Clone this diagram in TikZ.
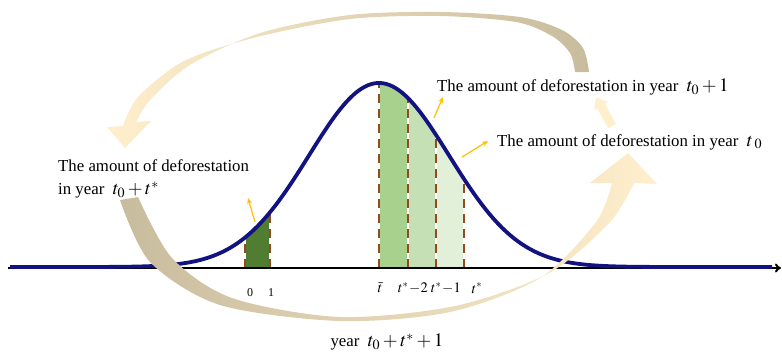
\documentclass[tikz,border=0pt]{standalone}
\usepackage{mathptmx}
\usepackage{fontspec}
\setmainfont{Liberation Serif}
\usetikzlibrary{arrows.meta}
\definecolor{navyc}{RGB}{18,18,128}
\definecolor{brownd}{RGB}{146,74,30}
\definecolor{gdark}{RGB}{80,125,50}
\definecolor{gone}{RGB}{169,209,142}
\definecolor{gtwo}{RGB}{197,224,180}
\definecolor{gthree}{RGB}{226,240,217}
\definecolor{goldc}{RGB}{255,192,0}
\definecolor{tanc}{RGB}{200,188,158}
\definecolor{creamc}{RGB}{255,239,204}
\definecolor{palec}{RGB}{243,236,220}
\begin{document}
\begin{tikzpicture}[x=1pt,y=-1pt,
  declare function={gauss(\t)=267-184*exp(-0.5*((\t-379)/70)^2);},
  curvec/.style={draw=navyc,line width=3.8pt},
  bardash/.style={draw=brownd,line width=2.9pt,dash pattern=on 9pt off 6pt},
  barwhite/.style={draw=white,line width=2.9pt},
  callout/.style={draw=goldc,line width=1.2pt,-{Stealth[length=6pt,width=5pt]}},
  lbl/.style={font=\fontsize{16.8}{19}\selectfont,inner sep=0pt,anchor=west},
  axlbl/.style={font=\fontsize{14.5}{16}\selectfont,inner sep=0pt},
  numlbl/.style={font=\fontsize{12}{14}\selectfont,inner sep=0pt}]
\useasboundingbox (0,0) rectangle (782,354);

% bars
\fill[gdark] (245,268) -- plot[domain=245:270,samples=20] (\x,{gauss(\x)}) -- (270,268) -- cycle;
\fill[gone] (379,268) -- plot[domain=379:408,samples=20] (\x,{gauss(\x)}) -- (408,268) -- cycle;
\fill[gtwo] (408,268) -- plot[domain=408:436,samples=20] (\x,{gauss(\x)}) -- (436,268) -- cycle;
\fill[gthree] (436,268) -- plot[domain=436:464,samples=20] (\x,{gauss(\x)}) -- (464,268) -- cycle;

% dashed separators
\foreach \xx in {245,270,379,408,436,464}{
  \draw[barwhite] (\xx,268) -- (\xx,{gauss(\xx)});
  \draw[bardash] (\xx,268) -- (\xx,{gauss(\xx)});
}

% axis and curve
\draw[line width=2pt,-{To[length=6pt,width=9pt]}] (8,268) -- (781,268);
\draw[curvec] plot[domain=10:772,samples=250] (\x,{gauss(\x)});

% callout arrows
\draw[callout] (255,222) -- (248,198);
\draw[callout] (434,118) -- (443,97);
\draw[callout] (462,157) -- (488,141);

% upper big arrow
\shade[left color=creamc,right color=tanc]
  plot[smooth] coordinates {(589,72) (583,48) (562,30) (520,17) (440,12) (350,15) (260,33) (190,65) (150,100) (136,122)}
  -- (151,121) -- (125,148) -- (107,127) --
  plot[smooth] coordinates {(123,126) (138,97) (184,61) (257,37) (350,19) (440,16) (516,22) (552,36) (570,53) (575,72)}
  -- cycle;

% lower big arrow
\shade[left color=tanc,middle color=palec,right color=creamc]
  plot[smooth] coordinates {(120,200) (150,262) (220,305) (340,321) (450,312) (540,278) (596,222) (612,183)}
  -- (590,183) -- (628,153) -- (657,184) --
  plot[smooth] coordinates {(634,183) (610,222) (549,273) (455,306) (340,317) (232,298) (172,258) (138,197)}
  -- cycle;

% small cream arrow piece
\fill[creamc] (608.1,128.3) -- (615.9,123.8) -- (604.9,103.8) -- (607.9,102) -- (596,97.3) -- (594.1,110) -- (597.1,108.3) -- cycle;

% texts
\node[lbl] (t1) at (58,166) {The amount of deforestation};
\node[lbl] (t2) at (58,190) {in year {\fontsize{19}{20}\selectfont$\;t_0+t^*$}};
\node[lbl] (t3) at (437,87) {The amount of deforestation in year {\fontsize{19}{20}\selectfont$\;t_0+1$}};
\node[lbl] (t4) at (497,142) {The amount of deforestation in year {\fontsize{19}{20}\selectfont$\;t_{\;0}$}};
\node[lbl,anchor=center] (t5) at (387,342) {year {\fontsize{19}{20}\selectfont$\;t_0+t^*+1$}};

% axis labels
\node[numlbl] (l0) at (250,293) {0};
\node[numlbl] (l1) at (271,293) {1};
\node[axlbl] (lb) at (380,288) {$\bar t$};
\node[axlbl] (lc) at (413,288) {$t^*\!-\!2$};
\node[axlbl] (ld) at (446,288) {$t^*\!-\!1$};
\node[axlbl] (le) at (477,288) {$t^*$};
\end{tikzpicture}
\end{document}
